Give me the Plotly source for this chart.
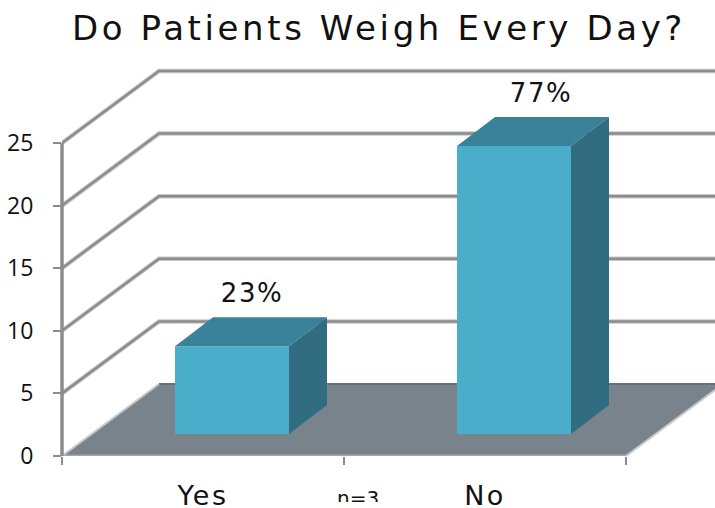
import plotly.graph_objects as go

# Survey results: number of patients answering each way, and the share shown above each bar
categories = ["Yes", "No"]
counts = [7, 23]
percent_labels = ["23%", "77%"]
y_ticks = [0, 5, 10, 15, 20, 25]
sample_note = "n=3"

# Canvas and plot frame, in pixels
W, H = 715, 508
LEFT, BOTTOM, TOP = 62, 52, 50
PX_X = 282.0   # pixels per category
PX_Y = 12.52   # pixels per count

def dx(px):
    return px / PX_X

def dy(px):
    return px / PX_Y

x_min = 0.5
x_max = x_min + (W - LEFT) / PX_X
y_max = (H - BOTTOM - TOP) / PX_Y

# Oblique projection: depth of the back wall, of the bar's seat on the floor, and of a bar
WALL_X, WALL_Y = dx(97), dy(72)
SEAT_X, SEAT_Y = dx(29), dy(22)
BAR_X, BAR_Y = dx(38), dy(29)
BAR_W = dx(114)
LABEL_SHIFT = [dx(20), dx(27)]
FRONT, TOP_FACE, SIDE = "#4aadca", "#39829a", "#316c80"
GRID_DARK, GRID_LIGHT = "#8c8c8c", "#c9c9c9"
FLOOR = "#79838c"

right_end = 2.5 + WALL_X


def path(points):
    return "M " + " L ".join(f"{x},{y}" for x, y in points)


shapes = []

# Floor of the chart
shapes.append(dict(
    type="path", layer="below", xref="x", yref="y", fillcolor=FLOOR,
    path=path([(0.5, 0), (0.5 + WALL_X, WALL_Y), (right_end, WALL_Y), (2.5, 0)]) + " Z",
    line=dict(width=0),
))
shapes.append(dict(type="line", layer="below", xref="x", yref="y", x0=0.5 + WALL_X, y0=WALL_Y,
                   x1=right_end, y1=WALL_Y, line=dict(color="#696f78", width=2)))
shapes.append(dict(type="line", layer="below", xref="x", yref="y", x0=0.5, y0=0, x1=2.5, y1=0,
                   line=dict(color="#a6a6a6", width=3)))
for x_start in (0.5, 2.5):
    shapes.append(dict(type="line", layer="below", xref="x", yref="y", x0=x_start, y0=0,
                       x1=x_start + WALL_X, y1=WALL_Y, line=dict(color=GRID_LIGHT, width=2)))

# Gridlines folding from the side wall onto the back wall
for tick in y_ticks[1:]:
    pts = [(0.5, tick), (0.5 + WALL_X, tick + WALL_Y), (right_end, tick + WALL_Y)]
    shapes.append(dict(type="path", layer="below", xref="x", yref="y", path=path(pts),
                       line=dict(color=GRID_LIGHT, width=4.5)))
    shapes.append(dict(type="path", layer="below", xref="x", yref="y", path=path(pts),
                       line=dict(color=GRID_DARK, width=2.5)))

# Value axis spine, referenced to the paper so its full width is kept at the plot edge
shapes.append(dict(type="line", layer="above", xref="paper", yref="y", x0=0, y0=0, x1=0,
                   y1=y_ticks[-1], line=dict(color=GRID_DARK, width=3.5)))

fig = go.Figure()

# Front faces of the bars
x_pos = [i + 1 for i in range(len(categories))]
fig.add_trace(go.Bar(
    x=[x + SEAT_X for x in x_pos], y=counts, base=[SEAT_Y] * len(counts), width=BAR_W,
    marker=dict(color=FRONT, line=dict(width=0)), hoverinfo="skip",
))

# Top and side faces of the bars
for x, value in zip(x_pos, counts):
    xl = x + SEAT_X - BAR_W / 2
    xr = x + SEAT_X + BAR_W / 2
    low, high = SEAT_Y, SEAT_Y + value
    fig.add_trace(go.Scatter(
        x=[xl, xr, xr + BAR_X, xl + BAR_X, xl],
        y=[high, high, high + BAR_Y, high + BAR_Y, high],
        mode="lines", fill="toself", fillcolor=TOP_FACE, line=dict(width=0), hoverinfo="skip",
    ))
    fig.add_trace(go.Scatter(
        x=[xr, xr + BAR_X, xr + BAR_X, xr, xr],
        y=[low, low + BAR_Y, high + BAR_Y, high, low],
        mode="lines", fill="toself", fillcolor=SIDE, line=dict(width=0), hoverinfo="skip",
    ))

# Percentage labels floating above the bars
fig.add_trace(go.Scatter(
    x=[x + SEAT_X + s for x, s in zip(x_pos, LABEL_SHIFT)],
    y=[SEAT_Y + v + dy(51) for v in counts],
    mode="text", text=percent_labels, textposition="middle center",
    textfont=dict(family="DejaVu Sans", size=26, color="#111111"), hoverinfo="skip",
))

fig.update_layout(
    width=W, height=H, autosize=False, showlegend=False,
    paper_bgcolor="white", plot_bgcolor="white",
    margin=dict(l=LEFT, r=0, t=TOP, b=BOTTOM),
    shapes=shapes,
    title=dict(text="Do Patients Weigh Every Day?", x=379 / W, xanchor="center",
               y=1 - 28 / H, yanchor="middle",
               font=dict(family="DejaVu Sans", size=34, color="#111111")),
    # The note's text box is shorter than its text, which trims the lower part of the glyphs
    annotations=[dict(
        text=sample_note, xref="x", yref="paper", x=1.5 + dx(14),
        y=-(485 - (H - BOTTOM)) / (H - BOTTOM - TOP), xanchor="center", yanchor="top",
        height=16, valign="top", showarrow=False, borderpad=0,
        font=dict(family="DejaVu Sans", size=20, color="#111111"),
    )],
    xaxis=dict(
        range=[x_min, x_max], showgrid=False, zeroline=False, showline=False, automargin=False,
        tickvals=x_pos, ticktext=categories, ticks="", ticklabelstandoff=21,
        tickfont=dict(family="DejaVu Sans", size=27, color="#111111"),
        minor=dict(tickvals=[0.5, 1.5, 2.5], ticks="outside", ticklen=8, tickwidth=2,
                   tickcolor=GRID_DARK, showgrid=False),
    ),
    yaxis=dict(
        range=[0, y_max], showgrid=False, zeroline=False, showline=False, automargin=False,
        tickvals=y_ticks, ticks="outside", ticklen=8, tickwidth=2, tickcolor=GRID_DARK,
        ticklabelstandoff=15,
        tickfont=dict(family="Open Sans", size=23, color="#111111"),
    ),
)

# Widen the tracking of the heading and labels once the page has drawn them
spacing = """
var el = document.querySelector('.plotly-graph-div');
el.querySelectorAll('.gtitle').forEach(function (t) { t.style.letterSpacing = '3.6px'; });
el.querySelectorAll('.xtick text').forEach(function (t) { t.style.letterSpacing = '2.5px'; });
el.querySelectorAll('.textpoint text').forEach(function (t) { t.style.letterSpacing = '1.5px'; });
"""
fig.write_html("out.html", post_script=spacing)
